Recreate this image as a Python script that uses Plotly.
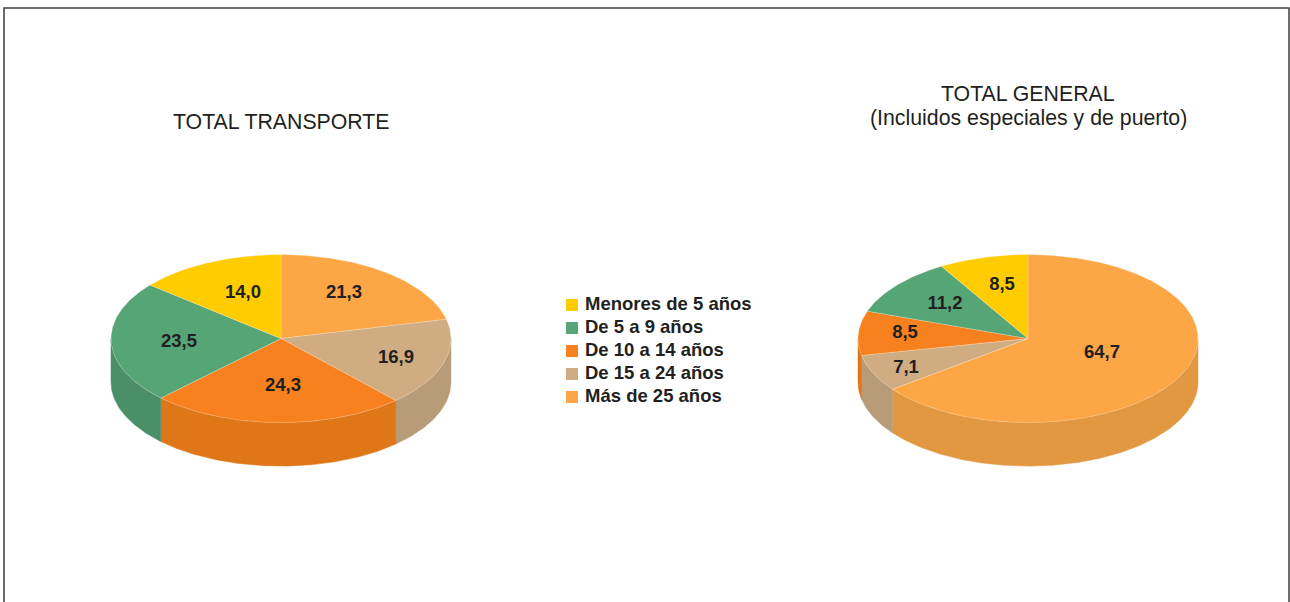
import math
import plotly.graph_objects as go

categories = ["Más de 25 años", "De 15 a 24 años", "De 10 a 14 años", "De 5 a 9 años", "Menores de 5 años"]
transporte = [21.3, 16.9, 24.3, 23.5, 14.0]
general = [64.7, 7.1, 8.5, 11.2, 8.5]
title_transporte = "TOTAL TRANSPORTE"
title_general = ["TOTAL GENERAL", "(Incluidos especiales y de puerto)"]

top_colors = ["#FCA646", "#CFAC82", "#F7811E", "#55A577", "#FFCC00"]
side_colors = ["#E29840", "#B89C78", "#DF7618", "#4A8F68", "#E0B400"]

RX, RY, DEPTH = 170, 84, 43.5
CY = 338.6
INK = "#231F20"
FONT = "Liberation Sans, Arial, sans-serif"

fig = go.Figure()


def pt(cx, ang, dy=0):
    return cx + RX * math.sin(ang), CY - RY * math.cos(ang) + dy


def arc(a0, a1):
    n = max(2, int(abs(a1 - a0) / 0.01))
    return [a0 + (a1 - a0) * i / n for i in range(n + 1)]


def add_pie(cx, values, name, label_pos):
    total = sum(values)
    bounds = [0.0]
    for v in values:
        bounds.append(bounds[-1] + v / total * 2 * math.pi)
    # side walls (front half only: angle between 90 and 270 degrees clockwise from the top)
    for i, v in enumerate(values):
        a0 = max(bounds[i], math.pi / 2)
        a1 = min(bounds[i + 1], 3 * math.pi / 2)
        if a1 <= a0:
            continue
        angs = arc(a0, a1)
        up = [pt(cx, a) for a in angs]
        dn = [pt(cx, a, DEPTH) for a in reversed(angs)]
        poly = up + dn + up[:1]
        fig.add_trace(go.Scatter(x=[p[0] for p in poly], y=[p[1] for p in poly], mode="lines",
                                 fill="toself", fillcolor=side_colors[i],
                                 line=dict(color=side_colors[i], width=0.5),
                                 hoverinfo="skip", showlegend=False))
    # top slices
    for i, v in enumerate(values):
        poly = [(cx, CY)] + [pt(cx, a) for a in arc(bounds[i], bounds[i + 1])] + [(cx, CY)]
        fig.add_trace(go.Scatter(x=[p[0] for p in poly], y=[p[1] for p in poly], mode="lines",
                                 fill="toself", fillcolor=top_colors[i],
                                 line=dict(color="rgba(255,240,220,0.45)", width=0.6),
                                 name=categories[i], text=f"{name}: {v}".replace(".", ","),
                                 hoverinfo="text", hoveron="fills", showlegend=False))
    # value labels
    fig.add_trace(go.Scatter(x=[p[0] for p in label_pos], y=[p[1] for p in label_pos], mode="text",
                             text=[f"{v:.1f}".replace(".", ",") for v in values],
                             textposition="middle center",
                             textfont=dict(family=FONT, size=18.5, color=INK, weight="bold"),
                             hoverinfo="skip", showlegend=False))


add_pie(281, transporte, title_transporte,
        [(344, 293), (396, 358), (283, 386), (179, 342), (243, 293)])
add_pie(1028, general, title_general[0],
        [(1102, 353), (906, 368), (905, 333), (945, 304), (1002, 285)])

# key, listed in the reference's order (youngest first)
order = list(reversed(range(len(categories))))
key_y = [305 + 23 * k for k in range(len(order))]
fig.add_trace(go.Scatter(x=[572] * len(order), y=key_y, mode="markers",
                         marker=dict(symbol="square", size=12, color=[top_colors[i] for i in order],
                                     line=dict(width=0)),
                         hoverinfo="skip", showlegend=False))
annotations = []
for k, i in enumerate(order):
    annotations.append(dict(x=583, y=key_y[k] - 2, text=categories[i], xanchor="left", yanchor="middle",
                            showarrow=False, font=dict(family=FONT, size=18.5, color=INK, weight="bold")))
for x, y, t in [(281, 122, title_transporte), (1028, 94, title_general[0]), (1028, 118, title_general[1])]:
    annotations.append(dict(x=x, y=y, text=t, xanchor="center", yanchor="middle", showarrow=False,
                            font=dict(family=FONT, size=21.3, color=INK)))

fig.update_layout(
    width=1290, height=602, margin=dict(l=0, r=0, t=0, b=0),
    paper_bgcolor="white", plot_bgcolor="white", showlegend=False,
    xaxis=dict(range=[0, 1290], visible=False, fixedrange=True),
    yaxis=dict(range=[602, 0], visible=False, fixedrange=True),
    annotations=annotations,
    shapes=[dict(type="path", path="M 4 602 L 4 8 L 1289 8 L 1289 602",
                 line=dict(color="#3C3C3C", width=1.5), layer="below")],
)
fig.write_html("out.html", config=dict(displayModeBar=False),
               post_script="document.body.style.margin='0';document.body.style.overflow='hidden';")
